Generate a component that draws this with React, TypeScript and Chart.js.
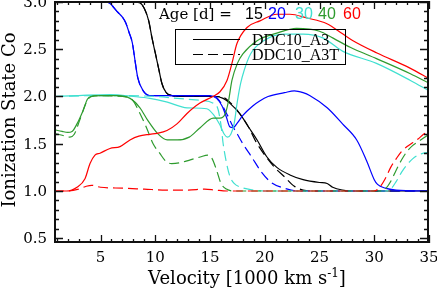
import React, { useEffect, useRef } from 'react';
import { Chart, registerables } from 'chart.js';

Chart.register(...registerables);

// ---------- axis ranges / tick labels ----------
const xMin = 0.75;
const xMax = 35;
const yMin = 0.45;
const yMax = 3.01;
const xTickLabels = [5, 10, 15, 20, 25, 30, 35];
const yTickLabels = [0.5, 1.0, 1.5, 2.0, 2.5, 3.0];

// ---------- data: age 15 d (black) ----------
const v15A3 = [0.75, 5, 8.0, 8.6, 9.0, 9.4, 9.7, 10.0, 10.3, 10.6, 11.0, 11.5, 12, 14, 15.5, 16.2, 16.8, 17.7, 18.5, 19.3, 20.2, 21.1, 22.3, 23.5, 25.0, 25.7, 26.2, 27.1, 28, 30, 35];
const y15A3 = [3.0, 3.0, 3.0, 2.99, 2.93, 2.8, 2.62, 2.46, 2.3, 2.14, 2.04, 2.01, 2.0, 2.0, 2.0, 1.98, 1.93, 1.82, 1.68, 1.54, 1.36, 1.25, 1.17, 1.12, 1.09, 1.08, 1.04, 1.01, 1.0, 1.0, 1.0];
const v15A3T = [0.75, 5, 8.0, 8.6, 9.0, 9.4, 9.7, 10.0, 10.3, 10.6, 11.0, 11.5, 12, 14, 16.0, 16.8, 17.7, 18.5, 19.2, 20.0, 20.9, 21.8, 22.7, 23.5, 24.5, 30, 35];
const y15A3T = [3.0, 3.0, 3.0, 2.99, 2.93, 2.8, 2.62, 2.46, 2.3, 2.14, 2.04, 2.01, 2.0, 2.0, 2.0, 1.94, 1.82, 1.68, 1.52, 1.38, 1.25, 1.15, 1.05, 1.01, 1.0, 1.0, 1.0];

// ---------- data: age 20 d (blue) ----------
const v20A3 = [0.75, 5.5, 5.9, 6.5, 7.0, 7.3, 7.6, 7.9, 8.15, 8.4, 8.9, 9.5, 10, 15, 15.6, 16.1, 16.5, 16.8, 17.1, 17.5, 18.0, 18.9, 19.5, 20.3, 21.8, 22.7, 23.5, 24.1, 25.7, 27.1, 28.4, 29.3, 30.0, 30.3, 31.0, 32.0, 35];
const y20A3 = [3.0, 3.0, 2.98, 2.9, 2.84, 2.78, 2.68, 2.57, 2.38, 2.2, 2.06, 2.01, 2.01, 2.01, 1.98, 1.9, 1.78, 1.68, 1.67, 1.72, 1.8, 1.9, 1.95, 2.0, 2.04, 2.06, 2.04, 2.01, 1.88, 1.71, 1.54, 1.32, 1.12, 1.07, 1.03, 1.01, 1.0];
const v20A3T = [0.75, 5.5, 5.9, 6.5, 7.0, 7.3, 7.6, 7.9, 8.15, 8.4, 8.9, 9.5, 10, 15, 15.5, 16.0, 16.6, 17.1, 17.5, 18.0, 18.8, 19.7, 20.6, 21.8, 23.0, 35];
const y20A3T = [3.0, 3.0, 2.98, 2.9, 2.84, 2.78, 2.68, 2.57, 2.38, 2.2, 2.06, 2.01, 2.01, 2.01, 2.0, 1.93, 1.8, 1.68, 1.6, 1.5, 1.36, 1.2, 1.09, 1.03, 1.0, 1.0];

// ---------- data: age 30 d (turquoise) ----------
const v30A3 = [0.75, 3, 5.9, 8, 9.5, 11.1, 12.9, 14.7, 15.3, 15.9, 16.3, 16.6, 16.9, 17.2, 17.5, 17.8, 18.1, 18.7, 19.9, 21.7, 23.5, 25.3, 27.1, 30.2, 33.3, 35];
const y30A3 = [2.0, 2.01, 2.02, 2.0, 1.98, 1.94, 1.88, 1.87, 1.81, 1.7, 1.6, 1.57, 1.6, 1.71, 1.95, 2.14, 2.27, 2.45, 2.59, 2.66, 2.66, 2.62, 2.48, 2.35, 2.17, 2.06];
const v30A3T = [0.75, 5, 10, 12, 14.1, 15.6, 16.0, 16.2, 16.5, 16.8, 17.2, 17.8, 19.0, 20.0, 31.0, 31.5, 32.0, 32.5, 33.0, 33.5, 34.0, 34.5, 35];
const y30A3T = [2.0, 2.01, 2.0, 1.98, 1.96, 1.9, 1.7, 1.5, 1.3, 1.16, 1.08, 1.04, 1.01, 1.0, 1.0, 1.02, 1.1, 1.2, 1.28, 1.34, 1.38, 1.4, 1.41];

// ---------- data: age 40 d (green) ----------
const v40A3 = [0.75, 1.5, 2.0, 2.4, 2.85, 3.4, 3.8, 4.1, 5, 6.5, 7.7, 8.6, 9.3, 10.2, 11.1, 12.0, 13.1, 14.1, 15.3, 15.9, 16.4, 16.7, 17.0, 17.5, 18.0, 19.3, 21.1, 22.9, 25.0, 26.2, 27.8, 30.2, 33.3, 35];
const y40A3 = [1.65, 1.63, 1.62, 1.63, 1.71, 1.85, 1.97, 2.0, 2.01, 2.01, 1.98, 1.88, 1.75, 1.61, 1.54, 1.54, 1.57, 1.67, 1.77, 1.77, 1.82, 1.96, 2.17, 2.35, 2.45, 2.59, 2.67, 2.72, 2.69, 2.62, 2.52, 2.4, 2.24, 2.14];
const v40A3T = [0.75, 1.5, 2.2, 2.6, 3.1, 3.8, 4.2, 5, 7, 7.6, 8.0, 8.6, 9.2, 9.8, 10.4, 11.0, 11.5, 12.3, 13.2, 14.1, 14.8, 15.2, 15.6, 16.0, 16.5, 17.2, 30.5, 31.0, 31.5, 32.0, 32.5, 33.0, 33.5, 34.0, 34.5, 35];
const y40A3T = [1.61, 1.59, 1.57, 1.6, 1.75, 1.96, 2.0, 2.01, 2.0, 1.99, 1.95, 1.82, 1.67, 1.5, 1.4, 1.31, 1.29, 1.3, 1.33, 1.36, 1.38, 1.34, 1.22, 1.08, 1.02, 1.0, 1.0, 1.02, 1.1, 1.22, 1.33, 1.42, 1.48, 1.52, 1.56, 1.6];

// ---------- data: age 60 d (red) ----------
const v60A3 = [0.75, 1.9, 2.85, 3.58, 4.04, 4.49, 4.95, 5.86, 6.78, 7.69, 8.5, 9.5, 10.16, 11.07, 11.98, 12.9, 14.08, 15.27, 15.91, 16.55, 17.0, 17.46, 18.38, 19.56, 21.1, 22.3, 23.85, 25.68, 27.14, 28.06, 30.25, 33.26, 35];
const y60A3 = [1.0, 1.0, 1.04, 1.13, 1.29, 1.38, 1.4, 1.45, 1.47, 1.54, 1.58, 1.6, 1.61, 1.64, 1.71, 1.82, 1.93, 2.0, 2.05, 2.17, 2.35, 2.56, 2.73, 2.8, 2.87, 2.87, 2.83, 2.77, 2.66, 2.59, 2.46, 2.3, 2.19];
const v60A3T = [0.75, 2, 3, 3.7, 4.2, 5, 7, 9, 11, 13, 14.5, 15.5, 16.5, 30.0, 30.5, 31.0, 31.5, 32.0, 32.5, 33.0, 33.5, 34.0, 34.5, 35];
const y60A3T = [1.0, 1.0, 1.02, 1.05, 1.06, 1.04, 1.03, 1.02, 1.01, 1.01, 1.02, 1.01, 1.0, 1.0, 1.04, 1.13, 1.25, 1.34, 1.42, 1.47, 1.51, 1.55, 1.6, 1.64];

// ---------- series labels / colours ----------
const ages = ['15', '20', '30', '40', '60'];
const ageColors = ['#000000', '#0000ff', '#40e0d0', '#2e9b2e', '#ff0000'];
const modelNames = ['DDC10_A3', 'DDC10_A3T'];

const zip = (xs: number[], ys: number[]) => xs.map((x, i) => ({ x, y: ys[i] }));

const seriesData = [
  [zip(v15A3, y15A3), zip(v15A3T, y15A3T)],
  [zip(v20A3, y20A3), zip(v20A3T, y20A3T)],
  [zip(v30A3, y30A3), zip(v30A3T, y30A3T)],
  [zip(v40A3, y40A3), zip(v40A3T, y40A3T)],
  [zip(v60A3, y60A3), zip(v60A3T, y60A3T)],
];

const SERIF = '"DejaVu Serif", serif';

const decorPlugin = {
  id: 'decor',
  afterDraw(chart: any) {
    const ctx = chart.ctx as CanvasRenderingContext2D;
    const xs = chart.scales.x;
    const ys = chart.scales.y;
    const L = Math.round(xs.getPixelForValue(xMin));
    const R = Math.round(xs.getPixelForValue(xMax));
    const T = Math.round(ys.getPixelForValue(yMax));
    const B = Math.round(ys.getPixelForValue(yMin));
    ctx.save();
    ctx.setLineDash([]);
    ctx.globalAlpha = 1;
    ctx.fillStyle = '#000';

    // tick labels
    ctx.font = `15px ${SERIF}`;
    ctx.textAlign = 'right';
    ctx.textBaseline = 'middle';
    yTickLabels.forEach((t) => {
      ctx.fillText(t.toFixed(1), 47, ys.getPixelForValue(t) + 1);
    });
    ctx.textAlign = 'center';
    xTickLabels.forEach((t) => {
      ctx.fillText(String(t), xs.getPixelForValue(t), 258);
    });

    // y title
    ctx.save();
    ctx.translate(10, 120);
    ctx.rotate(-Math.PI / 2);
    ctx.font = `18px ${SERIF}`;
    ctx.textAlign = 'center';
    ctx.textBaseline = 'middle';
    ctx.fillText('Ionization State Co', 0, 0);
    ctx.restore();

    // x title with superscript
    const main = 'Velocity [1000 km s';
    const sup = '-1';
    const end = ']';
    ctx.font = `18px ${SERIF}`;
    const wMain = ctx.measureText(main).width;
    const wEnd = ctx.measureText(end).width;
    ctx.font = `12px ${SERIF}`;
    const wSup = ctx.measureText(sup).width;
    const total = wMain + wSup + wEnd;
    const x0 = 247 - total / 2;
    const base = 284;
    ctx.textAlign = 'left';
    ctx.textBaseline = 'alphabetic';
    ctx.font = `18px ${SERIF}`;
    ctx.fillText(main, x0, base);
    ctx.font = `12px ${SERIF}`;
    ctx.fillText(sup, x0 + wMain, base - 7);
    ctx.font = `18px ${SERIF}`;
    ctx.fillText(end, x0 + wMain + wSup, base);

    // title "Age [d] = 15 20 30 40 60"
    ctx.font = `15px ${SERIF}`;
    ctx.fillText('Age [d] =', 159, 19);
    const ageX = [245, 268, 295, 318, 343];
    ctx.font = '16px "Liberation Sans", sans-serif';
    ages.forEach((a, i) => {
      ctx.fillStyle = ageColors[i];
      ctx.fillText(a, ageX[i], 19);
    });

    // legend box
    ctx.fillStyle = '#000';
    ctx.fillRect(175, 29, 171, 1);
    ctx.fillRect(175, 64, 171, 1);
    ctx.fillRect(175, 29, 1, 36);
    ctx.fillRect(345, 29, 1, 36);
    ctx.fillRect(193, 39, 47, 1);
    for (let x = 193; x < 240; x += 15) {
      ctx.fillRect(x, 54, Math.min(10, 240 - x), 1);
    }
    ctx.font = '16px "Liberation Serif", serif';
    ctx.fillText(modelNames[0], 252, 45);
    ctx.fillText(modelNames[1], 252, 60);

    // plot box (2px, proven visible)
    ctx.fillStyle = '#111';
    ctx.fillRect(L, T, R - L, 2);
    ctx.fillRect(L, B - 2, R - L, 2);
    ctx.fillRect(L, T, 2, B - T);
    ctx.fillRect(R - 2, T, 2, B - T);

    // ticks, inward on all four sides
    ctx.strokeStyle = '#111';
    ctx.lineWidth = 1.3;
    ctx.beginPath();
    for (let v = Math.ceil(xMin); v <= xMax; v++) {
      const px = Math.round(xs.getPixelForValue(v)) + 0.5;
      const len = v % 5 === 0 ? 8 : 4;
      ctx.moveTo(px, B);
      ctx.lineTo(px, B - len);
      ctx.moveTo(px, T);
      ctx.lineTo(px, T + len);
    }
    for (let i = Math.ceil(yMin * 10); i <= Math.floor(yMax * 10); i++) {
      const py = Math.round(ys.getPixelForValue(i / 10)) + 0.5;
      const len = i % 5 === 0 ? 9 : 5;
      ctx.moveTo(L, py);
      ctx.lineTo(L + len, py);
      ctx.moveTo(R, py);
      ctx.lineTo(R - len, py);
    }
    ctx.stroke();
    ctx.restore();
  },
};

export default function App() {
  const ref = useRef<HTMLCanvasElement | null>(null);
  useEffect(() => {
    if (!ref.current) return;
    const datasets: any[] = [];
    const order = [4, 3, 2, 1, 0];
    order.forEach((ai) => {
      [0, 1].forEach((mi) => {
        datasets.push({
          label: `${modelNames[mi]} ${ages[ai]} d`,
          data: seriesData[ai][mi],
          borderColor: ageColors[ai],
          backgroundColor: ageColors[ai],
          borderWidth: 1.2,
          borderDash: mi === 1 ? [10, 5] : [],
          pointRadius: 0,
          fill: false,
          cubicInterpolationMode: 'monotone',
        });
      });
    });
    const chart = new Chart(ref.current, {
      type: 'line',
      data: { datasets },
      options: {
        animation: false,
        responsive: false,
        maintainAspectRatio: false,
        layout: { padding: { left: 0, right: 8, top: 1, bottom: 0 } },
        plugins: { legend: { display: false }, tooltip: { enabled: false }, title: { display: false } },
        scales: {
          x: {
            type: 'linear',
            min: xMin,
            max: xMax,
            grid: { display: false, drawTicks: false },
            border: { display: false },
            ticks: { display: false },
            afterFit: (s: any) => { s.height = 45; },
          },
          y: {
            type: 'linear',
            min: yMin,
            max: yMax,
            grid: { display: false, drawTicks: false },
            border: { display: false },
            ticks: { display: false },
            afterFit: (s: any) => { s.width = 54; },
          },
        },
      },
      plugins: [decorPlugin],
    });
    return () => chart.destroy();
  }, []);
  return (
    <div style={{ position: 'fixed', left: 0, top: 0, width: 437, height: 288, background: '#fff' }}>
      <canvas ref={ref} width={437} height={288} style={{ width: 437, height: 288 }} />
    </div>
  );
}
